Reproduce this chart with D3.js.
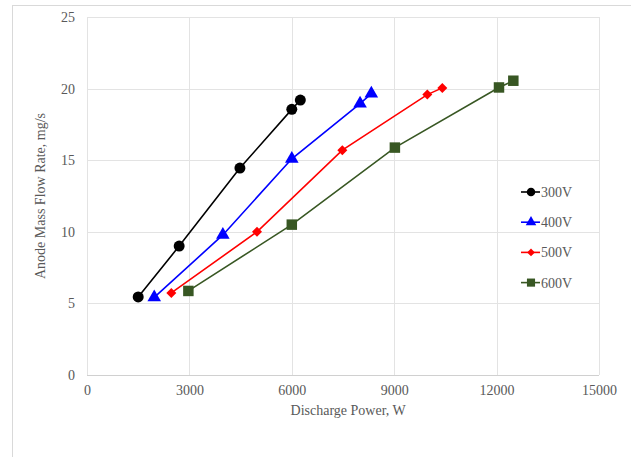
<!DOCTYPE html>
<html>
<head>
<meta charset="utf-8">
<script src="https://cdn.jsdelivr.net/npm/d3@7"></script>
<style>
    body { margin: 0; background: #fff; }
    text { font-family: "Liberation Serif", "Times New Roman", serif; fill: #595959; }
</style>
</head>
<body>
<div id="vis"></div>
<script>
// data: [power W, flow mg/s]
var series300 = [[1500, 5.45], [2700, 9.0], [4480, 14.45], [6000, 18.55], [6250, 19.2]];
var series400 = [[1970, 5.42], [3980, 9.78], [6000, 15.1], [8000, 18.95], [8330, 19.65]];
var series500 = [[2470, 5.73], [4980, 10.0], [7480, 15.7], [9970, 19.58], [10410, 20.05]];
var series600 = [[2970, 5.87], [6000, 10.5], [9020, 15.88], [12070, 20.08], [12490, 20.55]];
var seriesNames = ['300V', '400V', '500V', '600V'];
var xTicks = [0, 3000, 6000, 9000, 12000, 15000];
var yTicks = [0, 5, 10, 15, 20, 25];

var width = 631, height = 457;
var margin = {left: 87, top: 17, right: 32, bottom: 82};
var drawWidth = width - margin.left - margin.right;
var drawHeight = height - margin.top - margin.bottom;

var svg = d3.select('#vis').append('svg')
    .attr('width', width)
    .attr('height', height);

// outer chart frame
svg.append('rect')
    .attr('x', 12.5).attr('y', 5.5)
    .attr('width', 640).attr('height', 470)
    .attr('fill', 'none')
    .attr('stroke', '#d9d9d9');

var g = svg.append('g')
    .attr('transform', 'translate(' + margin.left + ',' + margin.top + ')');

var xScale = d3.scaleLinear().domain([0, 15000]).range([0, drawWidth]);
var yScale = d3.scaleLinear().domain([0, 25]).range([drawHeight, 0]);

// grid
g.selectAll('.vgrid').data(xTicks).enter().append('line')
    .attr('x1', d => Math.round(xScale(d)) + 0.5).attr('x2', d => Math.round(xScale(d)) + 0.5)
    .attr('y1', 0).attr('y2', drawHeight)
    .attr('stroke', '#e3e3e3');
g.selectAll('.hgrid').data(yTicks).enter().append('line')
    .attr('y1', d => Math.round(yScale(d)) + 0.5).attr('y2', d => Math.round(yScale(d)) + 0.5)
    .attr('x1', 0).attr('x2', drawWidth)
    .attr('stroke', '#e3e3e3');
g.append('line')
    .attr('x1', 0).attr('x2', drawWidth)
    .attr('y1', drawHeight + 0.5).attr('y2', drawHeight + 0.5)
    .attr('stroke', '#d0d0d0');

var xAxis = d3.axisBottom(xScale).tickValues(xTicks).tickFormat(d3.format('d')).tickSize(0).tickPadding(10);
var yAxis = d3.axisLeft(yScale).tickValues(yTicks).tickFormat(d3.format('d')).tickSize(0).tickPadding(12);

var xAxisG = g.append('g')
    .attr('transform', 'translate(0,' + drawHeight + ')')
    .call(xAxis);
var yAxisG = g.append('g').call(yAxis);
[xAxisG, yAxisG].forEach(function(a) {
    a.select('.domain').remove();
    a.selectAll('text').style('font-size', '14px').attr('fill', '#595959')
        .style('font-family', '"Liberation Serif", serif');
});

svg.append('text')
    .attr('transform', 'translate(' + (margin.left + xScale(7650)) + ',' + 415 + ')')
    .attr('text-anchor', 'middle')
    .style('font-size', '14px')
    .text('Discharge Power, W');

svg.append('text')
    .attr('transform', 'translate(45,' + (margin.top + drawHeight / 2) + ') rotate(-90)')
    .attr('text-anchor', 'middle')
    .style('font-size', '14px')
    .text('Anode Mass Flow Rate, mg/s');

var allSeries = [series300, series400, series500, series600];
var colors = ['#000000', '#0000ff', '#ff0000', '#385723'];
var symbols = [d3.symbolCircle, d3.symbolTriangle, d3.symbolSquare, d3.symbolSquare];
var symRotate = [0, 0, 45, 0];
var symSizes = [95, 80, 50, 110];

var line = d3.line().x(d => xScale(d[0])).y(d => yScale(d[1]));

allSeries.forEach(function(data, i) {
    g.append('path')
        .datum(data)
        .attr('d', line)
        .attr('fill', 'none')
        .attr('stroke', colors[i])
        .attr('stroke-width', 1.6);
    g.selectAll('.pt' + i).data(data).enter().append('path')
        .attr('transform', d => 'translate(' + xScale(d[0]) + ',' + yScale(d[1]) + ') rotate(' + symRotate[i] + ')')
        .attr('d', d3.symbol().type(symbols[i]).size(symSizes[i]))
        .attr('fill', colors[i]);
});

// legend
var legend = svg.selectAll('.legend').data(seriesNames).enter().append('g')
    .attr('class', 'legend')
    .attr('transform', (d, i) => 'translate(521,' + (192 + i * 30.2) + ')');
legend.append('line')
    .attr('x1', 0).attr('x2', 19)
    .attr('stroke', (d, i) => colors[i])
    .attr('stroke-width', 1.6);
legend.append('path')
    .attr('transform', (d, i) => 'translate(10,0) rotate(' + symRotate[i] + ')')
    .attr('d', (d, i) => d3.symbol().type(symbols[i]).size(symSizes[i] * 0.6)())
    .attr('fill', (d, i) => colors[i]);
legend.append('text')
    .attr('x', 20)
    .attr('dy', '0.35em')
    .style('font-size', '14px')
    .text(d => d);
</script>
</body>
</html>
